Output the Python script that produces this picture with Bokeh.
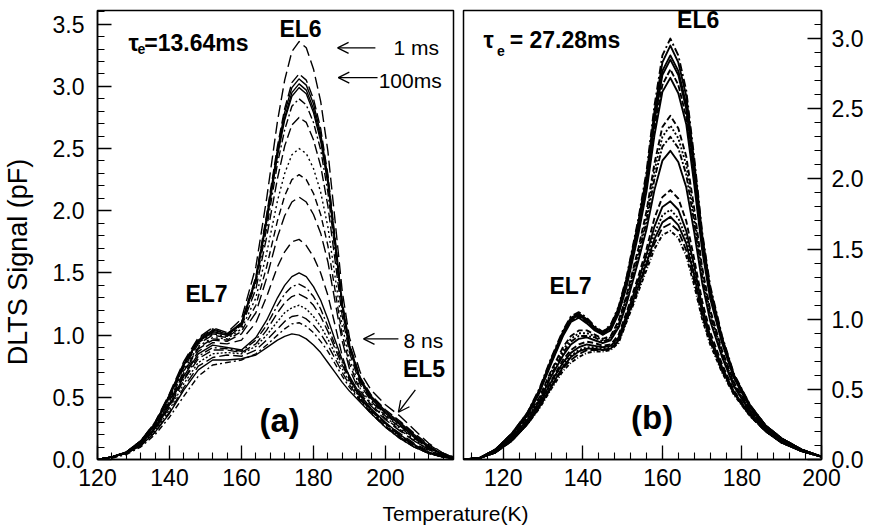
import math
from bokeh.plotting import figure
from bokeh.layouts import column, row
from bokeh.models import Range1d, SingleIntervalTicker, Arrow, OpenHead, Label, NumeralTickFormatter
from bokeh.embed import file_html
from bokeh.resources import INLINE

# ---------------- panel (a): tau_e = 13.64 ms ----------------
T_a = [120, 124, 128, 132, 136, 140, 144, 148, 152, 156, 160, 164, 167, 170, 172, 174,
       176, 178, 180, 182, 184, 186, 188, 190, 193, 196, 200, 204, 208, 212, 216, 219]

a01 = [0.00, 0.02, 0.06, 0.15, 0.30, 0.53, 0.79, 0.98, 1.06, 1.02, 1.13, 1.55, 2.10, 2.72, 3.05, 3.28,
       3.36, 3.31, 3.14, 2.88, 2.48, 1.92, 1.35, 0.98, 0.70, 0.56, 0.44, 0.35, 0.24, 0.13, 0.05, 0.02]
a02 = [0.00, 0.02, 0.06, 0.15, 0.30, 0.52, 0.78, 0.97, 1.05, 1.01, 1.10, 1.47, 1.97, 2.52, 2.82, 3.03,
       3.10, 3.05, 2.90, 2.66, 2.29, 1.78, 1.27, 0.93, 0.66, 0.52, 0.40, 0.31, 0.21, 0.12, 0.05, 0.02]
a03 = [0.00, 0.02, 0.06, 0.15, 0.29, 0.52, 0.77, 0.96, 1.04, 1.01, 1.10, 1.46, 1.95, 2.49, 2.79, 2.99,
       3.06, 3.01, 2.86, 2.62, 2.27, 1.76, 1.25, 0.92, 0.65, 0.51, 0.39, 0.30, 0.20, 0.11, 0.04, 0.02]
a04 = [0.00, 0.02, 0.06, 0.14, 0.29, 0.51, 0.76, 0.95, 1.03, 1.00, 1.09, 1.45, 1.93, 2.47, 2.75, 2.95,
       3.02, 2.97, 2.82, 2.59, 2.24, 1.74, 1.24, 0.91, 0.64, 0.50, 0.38, 0.29, 0.19, 0.10, 0.04, 0.02]
a05 = [0.00, 0.02, 0.06, 0.14, 0.29, 0.51, 0.76, 0.95, 1.02, 1.00, 1.09, 1.44, 1.91, 2.44, 2.73, 2.92,
       2.99, 2.94, 2.79, 2.56, 2.22, 1.73, 1.23, 0.90, 0.63, 0.49, 0.37, 0.28, 0.18, 0.10, 0.04, 0.01]
a06 = [0.00, 0.02, 0.06, 0.14, 0.28, 0.50, 0.75, 0.94, 1.01, 0.99, 1.08, 1.42, 1.86, 2.38, 2.65, 2.84,
       2.90, 2.85, 2.71, 2.49, 2.15, 1.68, 1.20, 0.89, 0.62, 0.48, 0.36, 0.27, 0.18, 0.09, 0.04, 0.01]
a07 = [0.00, 0.02, 0.06, 0.14, 0.28, 0.49, 0.74, 0.93, 1.00, 0.98, 1.07, 1.37, 1.79, 2.26, 2.52, 2.69,
       2.75, 2.71, 2.57, 2.36, 2.04, 1.60, 1.15, 0.86, 0.60, 0.47, 0.35, 0.26, 0.17, 0.09, 0.04, 0.01]
a08 = [0.00, 0.02, 0.05, 0.14, 0.27, 0.48, 0.72, 0.91, 0.98, 0.97, 1.05, 1.30, 1.66, 2.08, 2.30, 2.45,
       2.50, 2.46, 2.34, 2.15, 1.87, 1.47, 1.07, 0.81, 0.57, 0.45, 0.34, 0.25, 0.16, 0.08, 0.03, 0.01]
a09 = [0.00, 0.02, 0.05, 0.13, 0.27, 0.47, 0.71, 0.90, 0.97, 0.96, 1.03, 1.24, 1.55, 1.92, 2.12, 2.25,
       2.29, 2.25, 2.14, 1.97, 1.72, 1.36, 1.00, 0.77, 0.55, 0.44, 0.33, 0.24, 0.15, 0.08, 0.03, 0.01]
a10 = [0.00, 0.02, 0.05, 0.13, 0.26, 0.46, 0.70, 0.89, 0.96, 0.95, 1.01, 1.18, 1.46, 1.79, 1.96, 2.07,
       2.11, 2.07, 1.97, 1.82, 1.59, 1.27, 0.95, 0.73, 0.53, 0.43, 0.32, 0.23, 0.15, 0.08, 0.03, 0.01]
a11 = [0.00, 0.02, 0.05, 0.13, 0.26, 0.45, 0.68, 0.87, 0.94, 0.93, 0.96, 1.10, 1.31, 1.55, 1.67, 1.75,
       1.77, 1.72, 1.63, 1.50, 1.32, 1.08, 0.83, 0.66, 0.49, 0.39, 0.29, 0.21, 0.13, 0.07, 0.03, 0.01]
a12 = [0.00, 0.02, 0.05, 0.13, 0.25, 0.44, 0.67, 0.85, 0.92, 0.90, 0.88, 0.98, 1.12, 1.30, 1.40, 1.47,
       1.50, 1.47, 1.39, 1.28, 1.13, 0.96, 0.80, 0.67, 0.52, 0.41, 0.30, 0.20, 0.12, 0.06, 0.02, 0.01]
a13 = [0.00, 0.02, 0.05, 0.12, 0.25, 0.43, 0.65, 0.83, 0.90, 0.89, 0.87, 0.96, 1.08, 1.24, 1.33, 1.39,
       1.41, 1.38, 1.31, 1.21, 1.07, 0.92, 0.78, 0.65, 0.51, 0.40, 0.29, 0.19, 0.12, 0.06, 0.02, 0.01]
a14 = [0.00, 0.02, 0.05, 0.12, 0.24, 0.42, 0.64, 0.81, 0.88, 0.88, 0.86, 0.93, 1.04, 1.18, 1.26, 1.31,
       1.33, 1.30, 1.24, 1.15, 1.03, 0.89, 0.76, 0.64, 0.50, 0.40, 0.29, 0.19, 0.11, 0.06, 0.02, 0.01]
a15 = [0.00, 0.02, 0.05, 0.12, 0.23, 0.40, 0.61, 0.78, 0.85, 0.86, 0.85, 0.91, 1.00, 1.11, 1.18, 1.22,
       1.24, 1.21, 1.15, 1.07, 0.97, 0.85, 0.73, 0.62, 0.49, 0.39, 0.28, 0.18, 0.11, 0.05, 0.02, 0.01]
a16 = [0.00, 0.02, 0.05, 0.11, 0.22, 0.38, 0.58, 0.75, 0.82, 0.84, 0.83, 0.88, 0.96, 1.05, 1.11, 1.15,
       1.16, 1.13, 1.08, 1.01, 0.92, 0.81, 0.70, 0.60, 0.48, 0.38, 0.27, 0.18, 0.10, 0.05, 0.02, 0.01]
a17 = [0.00, 0.01, 0.04, 0.10, 0.20, 0.34, 0.51, 0.67, 0.76, 0.78, 0.80, 0.85, 0.92, 1.00, 1.05, 1.09,
       1.10, 1.07, 1.02, 0.95, 0.87, 0.77, 0.67, 0.58, 0.47, 0.37, 0.26, 0.17, 0.10, 0.05, 0.02, 0.01]
a18 = [0.00, 0.02, 0.05, 0.11, 0.22, 0.37, 0.56, 0.72, 0.80, 0.80, 0.81, 0.84, 0.90, 0.96, 0.99, 1.01,
       1.00, 0.97, 0.92, 0.86, 0.78, 0.70, 0.62, 0.55, 0.46, 0.37, 0.26, 0.17, 0.10, 0.05, 0.02, 0.01]

a_curves = [a01, a02, a03, a04, a05, a06, a07, a08, a09, a10, a11, a12, a13, a14, a15, a16, a17, a18]
a_dash = ["12 5", "10 4", "solid", "solid", "solid", "8 3 2 3", "10 4", "2 3", "7 4",
          "12 5", "10 5", "solid", "8 3 2 3", "10 4", "2 2", "10 4", "6 3 2 3", "solid"]

# ---------------- panel (b): tau_e = 27.28 ms ----------------
T_b = [110, 114, 118, 122, 126, 129, 132, 135, 137, 139, 141, 143, 145, 147, 149, 151,
       154, 156, 158, 160, 162, 164, 166, 168, 170, 172, 175, 178, 182, 186, 190, 195, 200]

b01 = [0.00, 0.01, 0.07, 0.18, 0.33, 0.50, 0.72, 0.92, 1.02, 1.05, 1.01, 0.95, 0.91, 0.96, 1.09, 1.30,
       1.72, 2.05, 2.52, 2.88, 3.00, 2.88, 2.63, 2.15, 1.62, 1.24, 0.88, 0.61, 0.39, 0.24, 0.15, 0.07, 0.02]
b02 = [0.00, 0.01, 0.07, 0.18, 0.33, 0.49, 0.71, 0.91, 1.01, 1.04, 1.00, 0.94, 0.91, 0.95, 1.08, 1.29,
       1.70, 2.02, 2.48, 2.83, 2.95, 2.83, 2.59, 2.12, 1.60, 1.22, 0.87, 0.60, 0.39, 0.24, 0.15, 0.07, 0.02]
b03 = [0.00, 0.01, 0.07, 0.18, 0.32, 0.49, 0.70, 0.90, 1.00, 1.03, 0.99, 0.94, 0.90, 0.94, 1.07, 1.27,
       1.67, 1.99, 2.43, 2.77, 2.88, 2.77, 2.53, 2.07, 1.57, 1.20, 0.86, 0.60, 0.38, 0.24, 0.15, 0.07, 0.02]
b04 = [0.00, 0.01, 0.07, 0.17, 0.32, 0.48, 0.70, 0.90, 1.00, 1.03, 0.99, 0.93, 0.90, 0.94, 1.06, 1.27,
       1.66, 1.97, 2.41, 2.74, 2.85, 2.74, 2.50, 2.05, 1.55, 1.19, 0.85, 0.59, 0.38, 0.24, 0.15, 0.07, 0.02]
b05 = [0.00, 0.01, 0.06, 0.17, 0.32, 0.48, 0.69, 0.89, 0.99, 1.02, 0.98, 0.93, 0.89, 0.93, 1.05, 1.25,
       1.64, 1.94, 2.36, 2.67, 2.78, 2.67, 2.44, 2.00, 1.52, 1.17, 0.84, 0.59, 0.38, 0.23, 0.15, 0.07, 0.02]
b06 = [0.00, 0.01, 0.06, 0.17, 0.31, 0.47, 0.68, 0.88, 0.98, 1.01, 0.97, 0.92, 0.89, 0.92, 1.04, 1.23,
       1.61, 1.91, 2.31, 2.62, 2.72, 2.61, 2.39, 1.96, 1.49, 1.15, 0.83, 0.58, 0.37, 0.23, 0.14, 0.07, 0.02]
b07 = [0.00, 0.01, 0.06, 0.16, 0.30, 0.44, 0.63, 0.80, 0.88, 0.92, 0.92, 0.89, 0.86, 0.88, 0.99, 1.17,
       1.51, 1.77, 2.11, 2.37, 2.45, 2.36, 2.16, 1.79, 1.37, 1.07, 0.78, 0.55, 0.36, 0.22, 0.14, 0.07, 0.02]
b08 = [0.00, 0.01, 0.06, 0.16, 0.29, 0.43, 0.62, 0.78, 0.86, 0.90, 0.90, 0.88, 0.85, 0.87, 0.97, 1.16,
       1.48, 1.73, 2.06, 2.30, 2.38, 2.29, 2.10, 1.74, 1.34, 1.05, 0.76, 0.54, 0.35, 0.22, 0.14, 0.07, 0.02]
b09 = [0.00, 0.01, 0.06, 0.15, 0.28, 0.42, 0.60, 0.76, 0.84, 0.88, 0.88, 0.87, 0.84, 0.86, 0.96, 1.14,
       1.45, 1.69, 2.00, 2.23, 2.30, 2.22, 2.03, 1.69, 1.30, 1.03, 0.75, 0.53, 0.35, 0.22, 0.13, 0.06, 0.02]
b10 = [0.00, 0.01, 0.06, 0.15, 0.28, 0.41, 0.59, 0.74, 0.82, 0.86, 0.87, 0.85, 0.83, 0.85, 0.94, 1.11,
       1.42, 1.64, 1.92, 2.13, 2.20, 2.12, 1.94, 1.62, 1.26, 0.99, 0.73, 0.52, 0.34, 0.22, 0.13, 0.06, 0.02]
b11 = [0.00, 0.01, 0.05, 0.14, 0.27, 0.40, 0.56, 0.71, 0.78, 0.82, 0.84, 0.83, 0.81, 0.82, 0.89, 1.05,
       1.31, 1.50, 1.72, 1.87, 1.92, 1.86, 1.70, 1.43, 1.13, 0.91, 0.68, 0.49, 0.33, 0.21, 0.13, 0.06, 0.02]
b12 = [0.00, 0.01, 0.05, 0.14, 0.26, 0.39, 0.55, 0.69, 0.76, 0.80, 0.82, 0.81, 0.80, 0.81, 0.87, 1.03,
       1.28, 1.46, 1.66, 1.80, 1.84, 1.78, 1.63, 1.38, 1.09, 0.88, 0.66, 0.48, 0.32, 0.21, 0.12, 0.06, 0.02]
b13 = [0.00, 0.01, 0.05, 0.14, 0.26, 0.38, 0.54, 0.68, 0.74, 0.78, 0.80, 0.80, 0.79, 0.80, 0.86, 1.01,
       1.26, 1.43, 1.61, 1.74, 1.78, 1.72, 1.58, 1.34, 1.07, 0.87, 0.65, 0.48, 0.32, 0.20, 0.12, 0.06, 0.02]
b14 = [0.00, 0.01, 0.05, 0.13, 0.25, 0.37, 0.52, 0.66, 0.73, 0.77, 0.79, 0.79, 0.78, 0.79, 0.85, 1.00,
       1.24, 1.40, 1.57, 1.69, 1.73, 1.67, 1.54, 1.31, 1.05, 0.85, 0.64, 0.47, 0.32, 0.20, 0.12, 0.06, 0.02]
b15 = [0.00, 0.01, 0.05, 0.13, 0.25, 0.37, 0.51, 0.65, 0.71, 0.75, 0.78, 0.78, 0.78, 0.79, 0.84, 0.99,
       1.22, 1.38, 1.54, 1.65, 1.68, 1.63, 1.49, 1.27, 1.02, 0.84, 0.63, 0.47, 0.31, 0.20, 0.12, 0.06, 0.02]
b16 = [0.00, 0.01, 0.05, 0.13, 0.25, 0.36, 0.50, 0.63, 0.69, 0.73, 0.76, 0.77, 0.77, 0.78, 0.83, 0.98,
       1.20, 1.35, 1.50, 1.60, 1.63, 1.58, 1.45, 1.24, 1.00, 0.82, 0.62, 0.46, 0.31, 0.20, 0.12, 0.06, 0.02]

b_curves = [b01, b02, b03, b04, b05, b06, b07, b08, b09, b10, b11, b12, b13, b14, b15, b16]
b_dash = ["8 3 2 3", "solid", "solid", "solid", "6 2", "solid", "6 3", "2 2", "6 2 2 2",
          "solid", "6 3", "solid", "2 2", "solid", "8 3", "4 2 1 2"]

x_tick_step = 20
y_tick_step = 0.5

FONT = "Liberation Sans"


def style_axes(p):
    p.xgrid.visible = False
    p.ygrid.visible = False
    p.outline_line_color = "black"
    p.outline_line_width = 1.5
    p.background_fill_color = "white"
    p.border_fill_color = "white"
    p.xaxis.ticker = SingleIntervalTicker(interval=x_tick_step, num_minor_ticks=5)
    p.yaxis.ticker = SingleIntervalTicker(interval=y_tick_step, num_minor_ticks=5)
    p.yaxis.formatter = NumeralTickFormatter(format="0.0")
    for ax in p.axis:
        ax.major_tick_in = 14
        ax.major_tick_out = 0
        ax.minor_tick_in = 7
        ax.minor_tick_out = 0
        ax.axis_line_color = "black"
        ax.axis_line_width = 1.5
        ax.major_tick_line_color = "black"
        ax.major_tick_line_width = 1.3
        ax.minor_tick_line_color = "black"
        ax.minor_tick_line_width = 1.1
        ax.major_label_text_font = FONT
        ax.major_label_text_font_size = "23px"
        ax.major_label_text_color = "black"
    p.xaxis.major_label_standoff = 9


def lab(p, x, y, text, size, bold=True, align="center", baseline="middle", angle=0.0):
    p.add_layout(Label(x=x, y=y, text=text, text_font=FONT, text_font_size=size,
                       text_font_style="bold" if bold else "normal", angle=angle,
                       text_align=align, text_baseline=baseline, text_color="black"))


def arrow(p, x0, y0, x1, y1):
    p.add_layout(Arrow(end=OpenHead(size=11, line_width=1.3, line_color="black"),
                       x_start=x0, y_start=y0, x_end=x1, y_end=y1,
                       line_width=1.3, line_color="black"))


def blank(width, height):
    q = figure(width=width, height=height, x_range=Range1d(0, width), y_range=Range1d(0, height),
               x_axis_type=None, y_axis_type=None, output_backend="svg", toolbar_location=None,
               title=None, min_border=0)
    q.outline_line_color = None
    return q


# ---- y-axis title strip ----
p0 = blank(36, 500)
lab(p0, 17, 220, "DLTS Signal (pF)", "27px", bold=False, angle=math.pi / 2)

# ---- left panel ----
p1 = figure(width=422, height=500, x_range=Range1d(120, 218.9), y_range=Range1d(0, 3.61),
            output_backend="svg", toolbar_location=None, title=None,
            min_border_left=61, min_border_right=5, min_border_top=9, min_border_bottom=40)
style_axes(p1)
p1.yaxis.major_label_standoff = 13

for ys, d in zip(a_curves, a_dash):
    p1.line(T_a, ys, line_color="black", line_width=1.4, line_dash=d, line_join="round")

lab(p1, 128.6, 3.35, "τ", "23px", align="left", baseline="alphabetic")
lab(p1, 131.1, 3.30, "e", "14px", align="left", baseline="alphabetic")
lab(p1, 133.0, 3.35, "=13.64ms", "23px", align="left", baseline="alphabetic")
lab(p1, 176.4, 3.46, "EL6", "23px")
lab(p1, 150.3, 1.33, "EL7", "23px")
lab(p1, 210.7, 0.73, "EL5", "23px")
lab(p1, 170.6, 0.31, "(a)", "33px")
lab(p1, 202.2, 3.31, "1 ms", "21px", bold=False, align="left")
lab(p1, 198.1, 3.05, "100ms", "21px", bold=False, align="left")
lab(p1, 205.0, 0.96, "8 ns", "21px", bold=False, align="left")
arrow(p1, 197.2, 3.31, 186.7, 3.31)
arrow(p1, 197.8, 3.07, 186.9, 3.07)
arrow(p1, 203.6, 0.97, 193.9, 0.97)
arrow(p1, 208.3, 0.56, 203.6, 0.38)

# ---- right panel ----
p2 = figure(width=410, height=500, x_range=Range1d(110, 200), y_range=Range1d(0, 3.2),
            output_backend="svg", toolbar_location=None, title=None, y_axis_location="right",
            min_border_left=5, min_border_right=47, min_border_top=10, min_border_bottom=41)
style_axes(p2)
p2.yaxis.major_label_standoff = 10

for ys, d in zip(b_curves, b_dash):
    p2.line(T_b, ys, line_color="black", line_width=1.9, line_dash=d, line_join="round")

lab(p2, 115.0, 2.99, "τ", "23px", align="left", baseline="alphabetic")
lab(p2, 118.4, 2.91, "e", "14px", align="left", baseline="alphabetic")
lab(p2, 121.6, 2.99, "= 27.28ms", "23px", align="left", baseline="alphabetic")
lab(p2, 169.0, 3.13, "EL6", "23px")
lab(p2, 136.9, 1.24, "EL7", "23px")
lab(p2, 157.4, 0.30, "(b)", "33px")

# ---- shared x-axis title ----
p3 = blank(868, 25)
lab(p3, 455, 1, "Temperature(K)", "21px", bold=False, baseline="bottom")

layout = column(row(p0, p1, p2), p3)

with open("out.html", "w") as f:
    f.write(file_html(layout, INLINE))
